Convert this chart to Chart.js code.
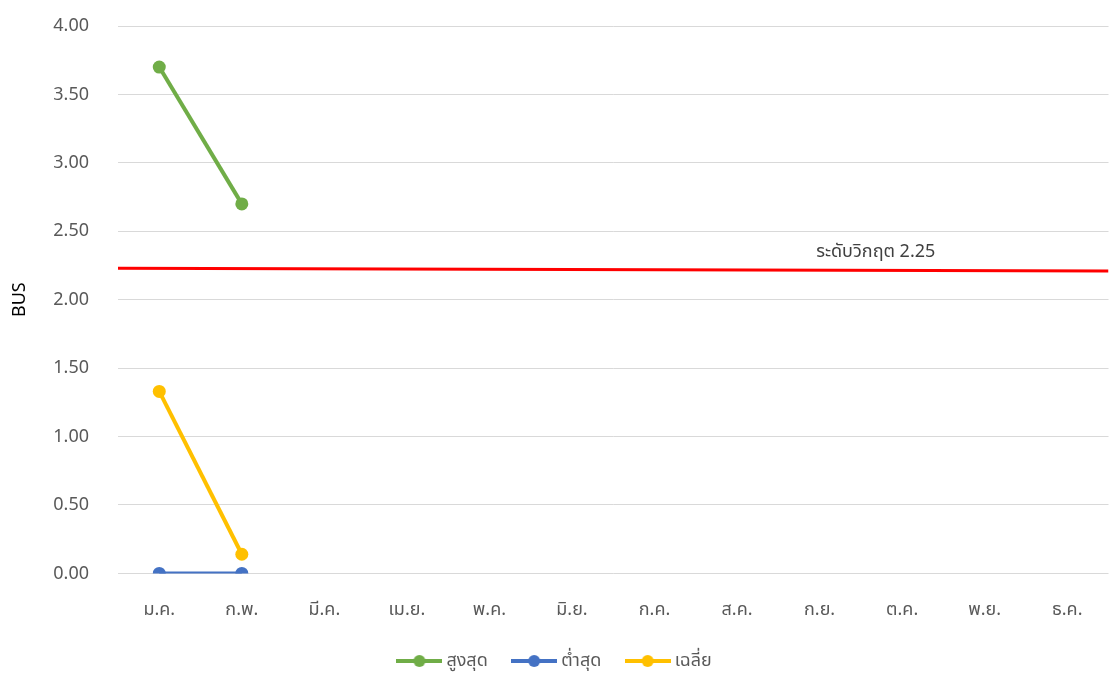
<!DOCTYPE html>
<html>
<head>
<meta charset="utf-8">
<script src="https://cdn.jsdelivr.net/npm/chart.js@4/dist/chart.umd.min.js"></script>
<style>
  body { margin: 0; background: #fff; overflow: hidden; }
  #wrap { width: 1115px; height: 686px; }
</style>
</head>
<body>
<div id="wrap"><canvas id="busChart"></canvas></div>
<script>
// ====== datos ======
const meses = ['ม.ค.', 'ก.พ.', 'มี.ค.', 'เม.ย.', 'พ.ค.', 'มิ.ย.', 'ก.ค.', 'ส.ค.', 'ก.ย.', 'ต.ค.', 'พ.ย.', 'ธ.ค.'];
const serieNombres = ['สูงสุด', 'ต่ำสุด', 'เฉลี่ย'];
const maximo = [3.70, 2.70, null, null, null, null, null, null, null, null, null, null];
const minimo = [0.00, 0.00, null, null, null, null, null, null, null, null, null, null];
const promedio = [1.33, 0.14, null, null, null, null, null, null, null, null, null, null];
const criticoX = [0, 1];
const criticoY = [2.23, 2.21];
const criticoTexto = 'ระดับวิกฤต 2.25';
const yTicks = [0, 0.5, 1, 1.5, 2, 2.5, 3, 3.5, 4];

const FONT = "'Noto Sans', 'Noto Sans Thai', Tahoma, sans-serif";
const colores = ['#70AD47', '#4472C4', '#FFC000'];
const GRIS = '#595959';

// icono de leyenda: linea con punto
function iconoLeyenda(color) {
    const c = document.createElement('canvas');
    c.width = 46; c.height = 14;
    const g = c.getContext('2d');
    g.strokeStyle = color; g.lineWidth = 4;
    g.beginPath(); g.moveTo(0, 7); g.lineTo(46, 7); g.stroke();
    g.fillStyle = color;
    g.beginPath(); g.arc(23, 7, 6, 0, Math.PI * 2); g.fill();
    return c;
}

// texto de la linea critica
const etiquetaCritica = {
    id: 'etiquetaCritica',
    afterDatasetsDraw(chart) {
        const ctx = chart.ctx;
        const x = chart.scales.x2.getPixelForValue(0.765);
        const y = chart.scales.y.getPixelForValue(2.23);
        ctx.save();
        ctx.font = '18px ' + FONT;
        ctx.fillStyle = '#404040';
        ctx.textAlign = 'center';
        ctx.textBaseline = 'middle';
        ctx.fillText(criticoTexto, x, y - 16);
        ctx.restore();
    }
};

document.addEventListener('DOMContentLoaded', function () {
    const ctx = document.getElementById('busChart');
    const series = [maximo, minimo, promedio];

    const datasets = series.map((d, i) => ({
        label: serieNombres[i],
        data: d,
        borderColor: colores[i],
        backgroundColor: colores[i],
        borderWidth: 4,
        pointRadius: 6.5,
        pointHoverRadius: 6.5,
        pointBorderWidth: 0,
        pointStyle: 'circle',
        legendIcon: iconoLeyenda(colores[i]),
        xAxisID: 'x',
        order: 1
    }));

    datasets.push({
        label: 'crit',
        data: criticoX.map((x, i) => ({ x: x, y: criticoY[i] })),
        borderColor: '#FF0000',
        borderWidth: 3,
        pointRadius: 0,
        xAxisID: 'x2',
        order: 0
    });

    new Chart(ctx, {
        type: 'line',
        data: { labels: meses, datasets: datasets },
        plugins: [etiquetaCritica],
        options: {
            responsive: true,
            maintainAspectRatio: false,
            animation: false,
            layout: { padding: { top: 26, right: 2, left: 0, bottom: 6 } },
            plugins: {
                tooltip: { enabled: false },
                legend: {
                    position: 'bottom',
                    labels: {
                        usePointStyle: true,
                        pointStyleWidth: 36,
                        padding: 5,
                        color: GRIS,
                        font: { family: FONT, size: 18 },
                        // espacios al final para separar los items
                        generateLabels: (chart) => chart.data.datasets.slice(0, 3).map((ds, i) => ({
                            text: ds.label + (i < 2 ? '     ' : ''),
                            pointStyle: ds.legendIcon,
                            fillStyle: ds.borderColor,
                            strokeStyle: ds.borderColor,
                            lineWidth: 0,
                            fontColor: GRIS,
                            datasetIndex: i
                        }))
                    }
                }
            },
            scales: {
                x: {
                    type: 'category',
                    offset: true,
                    afterFit: (s) => { s.height += 26; s.paddingLeft = 0; s.paddingRight = 0; },
                    grid: { display: false, drawTicks: true, tickLength: 26 },
                    border: { display: false },
                    ticks: { color: GRIS, padding: 0, font: { family: FONT, size: 18 } }
                },
                x2: { type: 'linear', min: 0, max: 1, display: false },
                y: {
                    min: 0,
                    max: 4,
                    afterBuildTicks: (s) => { s.ticks = yTicks.map(v => ({ value: v })); },
                    afterFit: (s) => { s.width = 118; },
                    grid: { color: '#D9D9D9', lineWidth: 1, drawTicks: true, tickLength: 28, tickColor: 'rgba(0,0,0,0)' },
                    border: { display: false },
                    ticks: {
                        color: GRIS,
                        padding: 1,
                        font: { family: FONT, size: 18 },
                        callback: (v) => Number(v).toFixed(2)
                    },
                    title: {
                        display: true, text: 'BUS', color: '#000',
                        padding: { top: 9, bottom: 4 },
                        font: { family: FONT, size: 18 }
                    }
                }
            }
        }
    });
});
</script>
</body>
</html>
